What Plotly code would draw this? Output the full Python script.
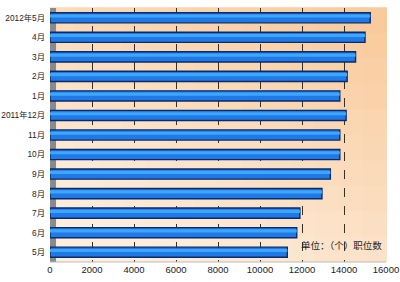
import plotly.graph_objects as go

months = ["2012年5月", "4月", "3月", "2月", "1月", "2011年12月", "11月",
          "10月", "9月", "8月", "7月", "6月", "5月"]
jobs = [15250, 15000, 14550, 14150, 13800, 14100, 13800,
        13800, 13350, 12950, 11900, 11750, 11300]
x_ticks = [0, 2000, 4000, 6000, 8000, 10000, 12000, 14000, 16000]

fig = go.Figure()

fig.add_trace(go.Bar(
    y=months, x=jobs, orientation="h",
    marker=dict(color="#1f7ae8", line=dict(color="#0d2a66", width=1.4)),
    width=0.52, hoverinfo="x+y",
))
fig.add_trace(go.Bar(
    y=months, x=jobs, orientation="h",
    marker=dict(color="#3fa6ff", line=dict(width=0)),
    width=0.16, offset=-0.17, hoverinfo="skip",
))

# background gradient approximation (grid of tiles)
shapes = []
nx, ny = 14, 10
c_light = (254, 238, 222)
c_dark = (249, 203, 156)
for i in range(nx):
    for j in range(ny):
        tx = (i + 0.5) / nx
        ty = (j + 0.5) / ny
        t = 0.6 * ty + 0.4 * tx
        t = max(0.0, min(1.0, (t - 0.15) / 0.8))
        col = tuple(int(c_light[k] + (c_dark[k] - c_light[k]) * t) for k in range(3))
        shapes.append(dict(type="rect", xref="x domain", yref="y domain",
                           x0=i / nx, x1=(i + 1) / nx + 0.003,
                           y0=j / ny, y1=(j + 1) / ny + 0.003,
                           fillcolor="rgb(%d,%d,%d)" % col, line=dict(width=0),
                           layer="below"))
# left gray wall
shapes.append(dict(type="rect", xref="x domain", yref="y domain",
                   x0=0, x1=0.018, y0=0, y1=1, fillcolor="#8a8a8a",
                   line=dict(width=0), layer="below"))
# floor edge
shapes.append(dict(type="line", xref="x domain", yref="y domain",
                   x0=0, x1=1, y0=0, y1=0, line=dict(color="#bbbbbb", width=1)))

fig.update_layout(
    width=400, height=282,
    margin=dict(l=50, r=14, t=8, b=20),
    paper_bgcolor="white",
    plot_bgcolor="#fbdcb8",
    showlegend=False,
    shapes=shapes,
    barmode="overlay",
    font=dict(family="Liberation Sans, Noto Sans CJK SC", size=10, color="#222"),
    annotations=[dict(text="单位：（个）职位数", xref="paper", yref="paper",
                      x=0.995, y=0.03, xanchor="right", yanchor="bottom",
                      showarrow=False,
                      font=dict(size=9.5, color="#222",
                                family="Noto Sans CJK SC"))],
)
fig.update_xaxes(range=[0, 16000], tickvals=x_ticks,
                 ticktext=[str(v) for v in x_ticks],
                 showgrid=True, gridcolor="#3a3020", griddash="dash",
                 gridwidth=1, zeroline=False, showline=False,
                 ticks="", automargin=False, ticklabeloverflow="allow",
                 tickfont=dict(size=9.5, family="Liberation Sans", color="#222"))
fig.update_yaxes(autorange="reversed", showgrid=False, ticks="",
                 automargin=False, ticklabelstandoff=4,
                 tickfont=dict(size=8.3, family="Liberation Sans, Noto Sans CJK SC",
                               color="#222"))

fig.write_html("out.html")
